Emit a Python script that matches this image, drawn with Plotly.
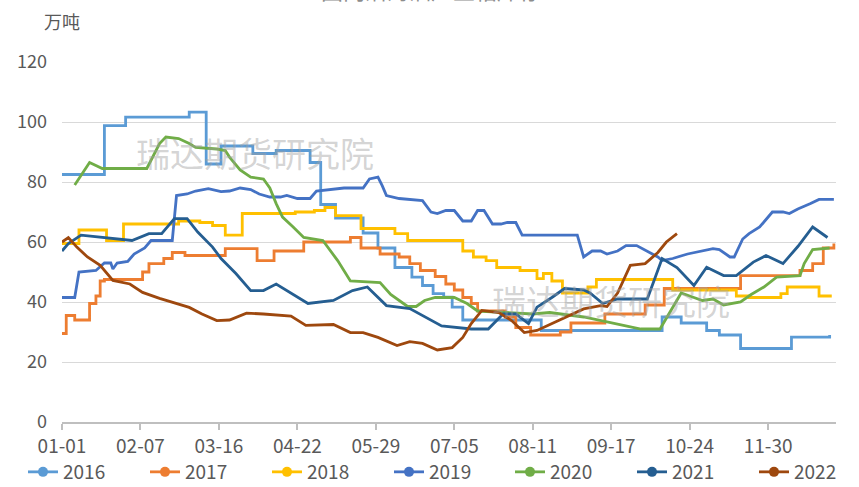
import datetime as dt
import plotly.graph_objects as go

# Day-of-year offsets (0 = 01-01) and inventory values (万吨) per season.
# 2016-2018 are weekly step readings; 2019-2022 are vertex readings.
days_2016 = [0, 20, 30, 60, 68, 75, 90, 101, 117, 122, 129, 142, 149, 157, 165, 170, 175,
             180, 184, 189, 226, 283, 292, 304, 310, 320, 344, 362]
vals_2016 = [82.5, 98.8, 101.6, 103.3, 86, 92, 89.5, 90.5, 86.5, 72.5, 68, 63, 58, 51.5, 48.3,
             45.5, 42.8, 41.6, 38.3, 34, 30.5, 35, 33, 30.5, 29, 24.5, 28.3, 29]

days_2017 = [0, 2, 6, 13, 16, 18, 20, 38, 41, 48, 52, 58, 77, 92, 100, 114, 136, 141, 150, 159,
             164, 169, 176, 181, 185, 189, 193, 196, 209, 214, 221, 235, 240, 256, 275, 284, 320,
             348, 354, 359, 364]
vals_2017 = [29.5, 35.5, 34, 39.5, 42, 47, 47.5, 50, 52.8, 54.5, 56.5, 55.5, 57.8, 53.8, 57, 60,
             61.5, 58, 56, 55, 52.8, 50.5, 48.5, 46, 44, 41.5, 39.5, 37, 35, 31.5, 29, 30, 33, 36,
             39, 44.5, 48.8, 50.5, 52.8, 58, 59.5]

days_2018 = [0, 8, 21, 29, 55, 65, 71, 77, 85, 110, 119, 124, 129, 141, 157, 163, 189, 194, 200,
             205, 216, 224, 227, 231, 236, 248, 252, 288, 318, 324, 339, 342, 357, 363]
vals_2018 = [59.5, 64, 60.5, 66, 67, 66.5, 65.5, 62.3, 69.5, 70, 70.5, 71.5, 68.8, 64.5, 62.8,
             60.5, 57, 55, 53.8, 51.5, 50.5, 47.8, 49.5, 47, 43, 45, 47.5, 44, 42, 41.5, 42.8, 45,
             42, 42]

days_2019 = [0, 6, 8, 16, 20, 23, 24, 26, 31, 34, 39, 42, 52, 54, 59, 63, 69, 75, 79, 84, 89, 93,
             98, 103, 106, 111, 117, 120, 133, 142, 145, 149, 151, 153, 159, 170, 174, 177, 181,
             185, 189, 193, 196, 199, 203, 207, 210, 214, 217, 243, 246, 250, 254, 257, 262, 266,
             271, 276, 281, 283, 288, 295, 301, 307, 310, 315, 317, 321, 324, 329, 335, 340, 343,
             347, 353, 357, 364]
vals_2019 = [41.5, 41.5, 50, 50.5, 53, 53, 51, 53, 53.5, 56, 58, 60.5, 60.5, 75.5, 76, 77, 77.8,
             76.8, 77, 78, 77.5, 76, 75, 75, 75.5, 74.5, 74.5, 77, 78, 78, 81, 81.6, 78.8, 75.5,
             74.5, 73.8, 70, 69.5, 70.5, 70.5, 67, 67, 70.5, 70.5, 66, 66, 66.5, 66.5, 62.3, 62.3,
             55, 57, 57, 56, 57, 58.8, 58.8, 57, 55, 53.8, 54.5, 56, 57, 57.8, 57.5, 55, 55, 61,
             62.8, 65, 70, 70, 69.5, 71, 72.8, 74.2, 74.2]

days_2020 = [6, 13, 19, 40, 46, 49, 55, 60, 63, 73, 77, 79, 84, 89, 95, 98, 101, 104, 109, 114,
             123, 130, 136, 150, 155, 163, 167, 171, 176, 185, 191, 196, 222, 230, 246, 262, 273,
             282, 287, 292, 296, 302, 307, 312, 320, 325, 331, 337, 348, 350, 354, 362]
vals_2020 = [79, 86.5, 84.5, 84.5, 92.8, 95, 94.5, 92.8, 91.5, 91, 90.5, 88.3, 84, 81.6, 81, 78,
             72.8, 68.3, 65, 61.5, 60.5, 53.8, 47, 46.5, 42.5, 38.5, 38.5, 40.5, 41.5, 41.5, 39.5,
             37, 36, 36.5, 35, 32.5, 31, 31, 37, 43, 42, 40.5, 41, 39, 40, 42.5, 45, 48.3, 48.8,
             52.8, 57.5, 58]

days_2021 = [0, 3, 9, 20, 33, 41, 47, 53, 59, 64, 71, 75, 82, 89, 95, 101, 108, 116, 128, 137,
             144, 149, 153, 164, 171, 179, 193, 201, 208, 214, 220, 224, 231, 237, 246, 249, 255,
             262, 276, 283, 290, 298, 304, 312, 318, 326, 332, 340, 347, 354, 361]
vals_2021 = [57, 59.5, 62.3, 61.5, 60.5, 62.8, 62.8, 67.8, 67.8, 63.3, 58.3, 54.5, 49.5, 43.8,
             43.8, 46, 43, 39.5, 40.5, 43.8, 45, 41.5, 38.8, 37.8, 35, 32, 31, 31, 36, 36, 32.8,
             38.3, 41.5, 44.5, 44, 43, 39.5, 41, 41, 54.5, 51.5, 45.5, 51.6, 48.8, 48.8, 53.3,
             55.5, 52.8, 58.5, 65, 61.5]

days_2022 = [0, 3, 7, 12, 18, 24, 32, 38, 46, 60, 66, 73, 79, 87, 95, 108, 115, 128, 136, 142,
             149, 158, 164, 170, 177, 184, 189, 193, 198, 206, 212, 218, 224, 231, 240, 246, 254,
             257, 262, 268, 275, 281, 285, 290]
vals_2022 = [60, 61.5, 58.3, 55, 52.2, 47.2, 46, 43.2, 41.2, 38.2, 36, 33.8, 34, 36.3, 36, 35.3,
             32.2, 32.5, 29.8, 29.8, 28.2, 25.5, 26.8, 26.2, 24, 24.8, 28.2, 32.8, 37.2, 36.5,
             33.8, 29.8, 30.5, 32.8, 36, 37.7, 38.8, 38.5, 43, 52.2, 52.8, 56.5, 60, 62.8]

series_names = ["2016", "2017", "2018", "2019", "2020", "2021", "2022"]
series_days = [days_2016, days_2017, days_2018, days_2019, days_2020, days_2021, days_2022]
series_vals = [vals_2016, vals_2017, vals_2018, vals_2019, vals_2020, vals_2021, vals_2022]
series_colors = ["#5B9BD5", "#ED7D31", "#FFC000", "#4472C4", "#70AD47", "#255E91", "#9E480E"]
series_shapes = ["hv", "hv", "hv", "linear", "linear", "linear", "linear"]

# Axis labels every 37 days starting at 01-01
tick_days = [0, 37, 74, 111, 148, 185, 222, 259, 296, 333]

base = dt.date(2021, 1, 1)


def to_dates(days):
    return [base + dt.timedelta(days=d) for d in days]


FONT = "Noto Sans CJK SC, Microsoft YaHei, sans-serif"
GREY = "#595959"

fig = go.Figure()
for name, d, v, c, shp in zip(series_names, series_days, series_vals, series_colors, series_shapes):
    fig.add_trace(go.Scatter(
        x=to_dates(d), y=v, mode="lines", name=name, showlegend=False,
        line=dict(color=c, width=2.8, shape=shp), hoverinfo="skip",
    ))
# legend entries: line with a round marker; the row is split over two legend boxes
for i, (name, c) in enumerate(zip(series_names, series_colors)):
    fig.add_trace(go.Scatter(
        x=[None], y=[None], mode="lines+markers", name=name,
        legend="legend" if i < 4 else "legend2",
        line=dict(color=c, width=2.8), marker=dict(color=c, size=10),
    ))

annotations = [
    dict(text="万吨", xref="paper", yref="paper", x=0, y=1.1125, xanchor="center",
         yanchor="middle", showarrow=False, font=dict(family=FONT, size=18, color=GREY)),
    dict(text="国内沿海油厂豆粕库存", xref="paper", yref="paper", x=(431 - 62) / 774, y=1.203,
         xanchor="center", yanchor="middle", showarrow=False,
         font=dict(family=FONT, size=22, color="#8c8c8c")),
    dict(text="瑞达期货研究院", xref="paper", yref="paper", x=(255 - 62) / 774,
         y=(421.5 - 152) / 360, xanchor="center", yanchor="middle", showarrow=False,
         font=dict(family=FONT, size=34, color="rgba(160,160,160,0.45)")),
    dict(text="瑞达期货研究院", xref="paper", yref="paper", x=(611 - 62) / 774,
         y=(421.5 - 300) / 360, xanchor="center", yanchor="middle", showarrow=False,
         font=dict(family=FONT, size=34, color="rgba(160,160,160,0.45)")),
]

legend_style = dict(
    orientation="h", xref="container", yref="container",
    y=15 / 487, xanchor="left", yanchor="middle",
    entrywidth=77, entrywidthmode="pixels",
    font=dict(family=FONT, size=19, color=GREY),
    itemwidth=30, tracegroupgap=0, bgcolor="rgba(0,0,0,0)",
)

fig.update_layout(
    width=859, height=487,
    margin=dict(l=62, r=23, t=62, b=65, autoexpand=False),
    paper_bgcolor="white", plot_bgcolor="white",
    font=dict(family=FONT, size=18, color=GREY),
    annotations=annotations,
    legend=dict(legend_style, x=23 / 859),
    legend2=dict(legend_style, x=510 / 859),
    xaxis=dict(
        type="date",
        range=[base, base + dt.timedelta(days=365)],
        tickvals=to_dates(tick_days), tickformat="%m-%d",
        showgrid=False, showline=True, linecolor="#bfbfbf", linewidth=1.5,
        ticks="outside", ticklen=6, tickcolor="#bfbfbf", tickwidth=1.5,
        tickfont=dict(family=FONT, size=19, color=GREY),
        zeroline=False, automargin=False,
    ),
    yaxis=dict(
        range=[0, 120], tickvals=[0, 20, 40, 60, 80, 100, 120],
        showgrid=True, gridcolor="#d9d9d9", gridwidth=1,
        showline=False, zeroline=False, ticks="",
        ticklabelstandoff=14, automargin=False,
        tickfont=dict(family=FONT, size=18, color=GREY),
    ),
)

fig.write_html("out.html")
